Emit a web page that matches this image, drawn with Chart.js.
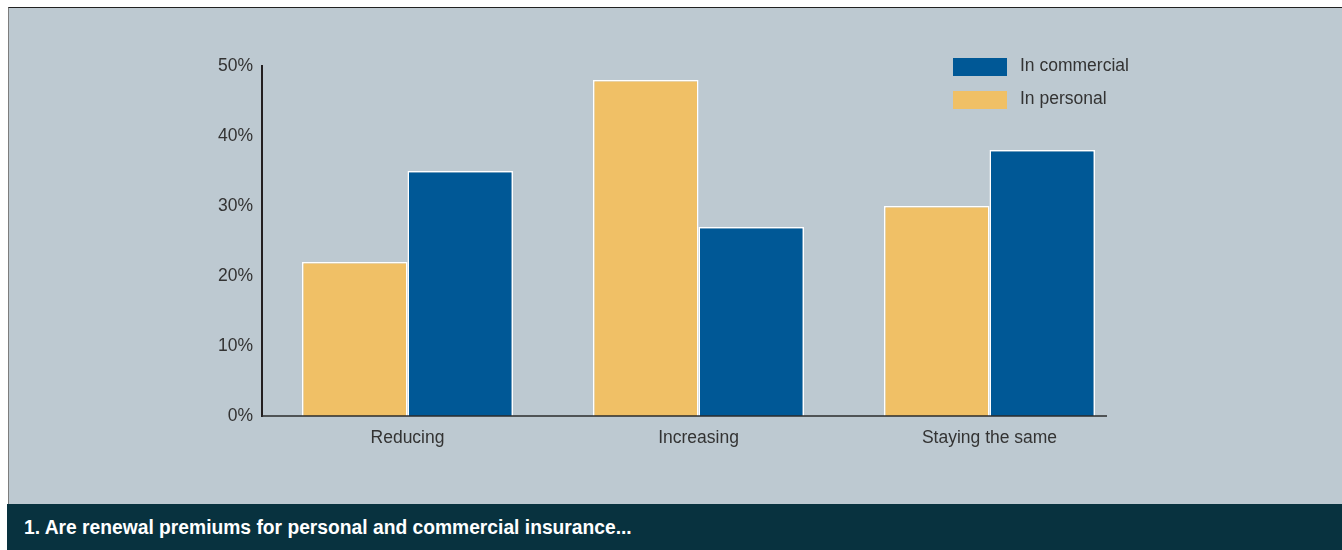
<!DOCTYPE html>
<html>
<head>
<meta charset="utf-8">
<script src="https://cdn.jsdelivr.net/npm/chart.js@4.4.1/dist/chart.umd.min.js"></script>
<style>
  body { margin: 0; background: #fff; width: 1342px; height: 550px; overflow: hidden; position: relative; }
  #panel { position: absolute; left: 8px; top: 7px; width: 1334px; height: 497px; background: #bdc9d1;
           border-top: 1px solid #222; border-left: 1px solid #7d7d7d; box-sizing: border-box; }
  #chart { position: absolute; left: 0; top: 0; }
  #legend { position: absolute; left: 953px; top: 56px; margin: 0; padding: 0; list-style: none;
            font-family: "Liberation Sans", Arial, sans-serif; font-size: 17.5px; color: #333; }
  #legend li { height: 33px; position: relative; }
  #legend span.box { position: absolute; left: 0; top: 2px; width: 54px; height: 18px; }
  #legend span.txt { position: absolute; left: 67px; top: -1px; white-space: nowrap; }
  #footer { position: absolute; left: 7px; top: 504px; width: 1335px; height: 46px; background: #08323f;
            color: #fff; font-family: "Liberation Sans", Arial, sans-serif;
            font-weight: bold; font-size: 20px; line-height: 46px; box-sizing: border-box; padding-left: 17px; }
  #footer span { display: inline-block; white-space: nowrap; transform-origin: 0 50%; }
</style>
</head>
<body>
<div id="panel"></div>
<canvas id="chart" width="1342" height="504"></canvas>
<ul id="legend"></ul>
<div id="footer"><span id="caption">1. Are renewal premiums for personal and commercial insurance...</span></div>
<script>
var categories = ['Reducing', 'Increasing', 'Staying the same'];
var personal = [22, 48, 30];
var commercial = [35, 27, 38];
var yMax = 50;
var yStep = 10;

var yellow = '#f0c066';
var blue = '#005896';

Chart.defaults.font.family = '"Liberation Sans", Arial, sans-serif';
Chart.defaults.font.size = 17.5;
Chart.defaults.color = '#333';

// short x axis line, ends a little before the right edge of the plot
var baseLine = {
    id: 'baseLine',
    afterDraw: function(chart) {
        var a = chart.chartArea, ctx = chart.ctx;
        ctx.save();
        ctx.strokeStyle = '#2b2b2b';
        ctx.lineWidth = 1.5;
        ctx.beginPath();
        ctx.moveTo(a.left, a.bottom);
        ctx.lineTo(a.right - 28, a.bottom);
        ctx.stroke();
        ctx.restore();
    }
};

var chart = new Chart(document.getElementById('chart').getContext('2d'), {
    type: 'bar',
    data: {
        labels: categories,
        datasets: [
            { label: 'In personal', data: personal, backgroundColor: yellow,
              borderColor: '#ffffff', borderWidth: 1.5 },
            { label: 'In commercial', data: commercial, backgroundColor: blue,
              borderColor: '#ffffff', borderWidth: 1.5 }
        ]
    },
    options: {
        responsive: false,
        devicePixelRatio: 1,
        animation: false,
        categoryPercentage: 0.725,
        barPercentage: 1.0,
        layout: { padding: { left: 0, top: 66, right: 207, bottom: 0 } },
        plugins: {
            legend: { display: false },
            tooltip: { enabled: false }
        },
        scales: {
            x: {
                grid: { display: false, drawTicks: false },
                border: { display: false },
                ticks: { padding: 12 },
                afterFit: function(s) { s.height = 88; }
            },
            y: {
                min: 0,
                max: yMax,
                grid: { display: false, drawTicks: false },
                border: { display: true, color: '#231f20', width: 2 },
                ticks: {
                    stepSize: yStep,
                    padding: 9,
                    callback: function(v) { return v + '%'; }
                },
                afterFit: function(s) { s.width = 262; }
            }
        }
    },
    plugins: [baseLine]
});

// legend lists commercial first
var legend = document.getElementById('legend');
chart.data.datasets.slice().reverse().forEach(function(ds) {
    var li = document.createElement('li');
    li.innerHTML = '<span class="box" style="background:' + ds.backgroundColor + '"></span>' +
                   '<span class="txt">' + ds.label + '</span>';
    legend.appendChild(li);
});

// squeeze the caption into a condensed look
var cap = document.getElementById('caption');
cap.style.transform = 'scaleX(' + (608 / cap.offsetWidth) + ')';
</script>
</body>
</html>
